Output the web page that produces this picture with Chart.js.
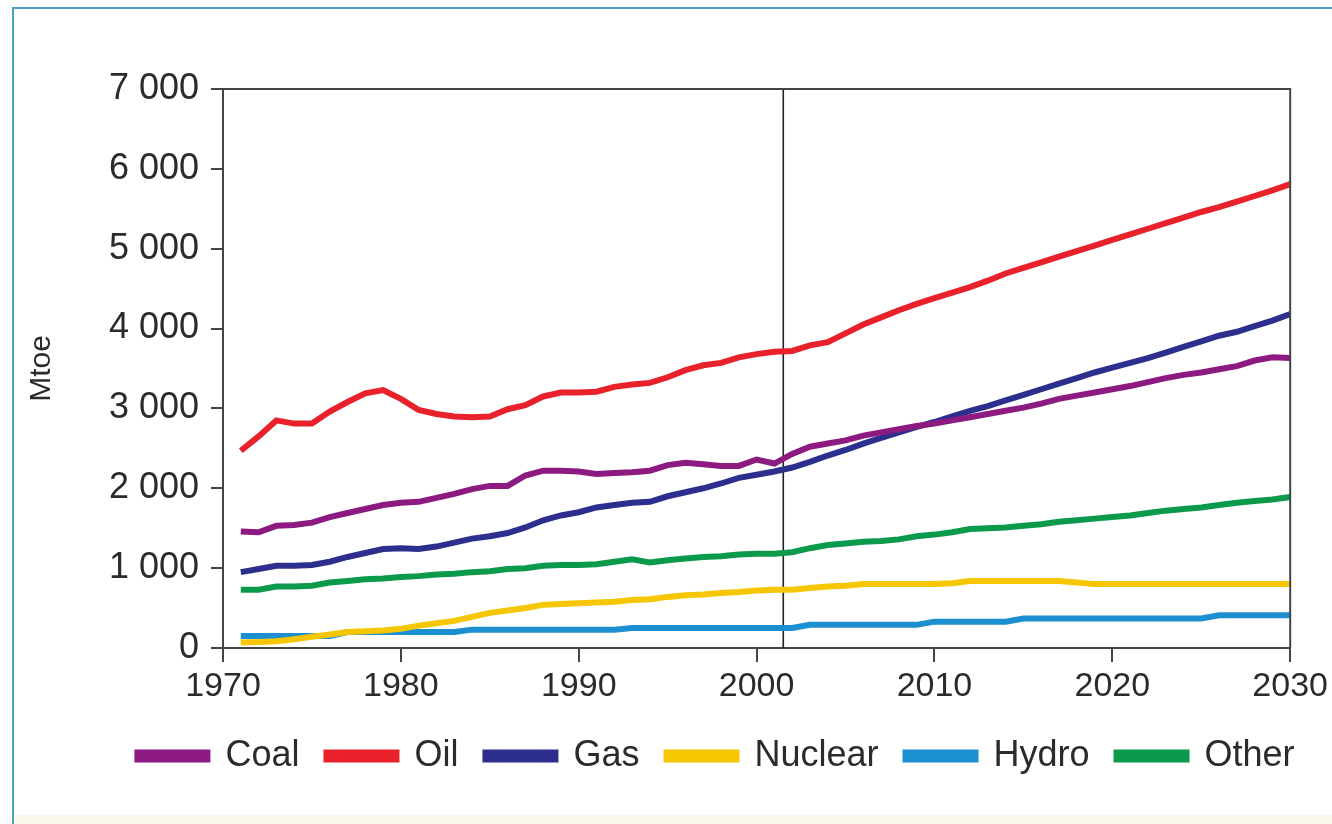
<!DOCTYPE html>
<html>
<head>
<meta charset="utf-8">
<script src="https://cdn.jsdelivr.net/npm/chart.js@4/dist/chart.umd.min.js"></script>
<style>
  html, body { margin: 0; padding: 0; background: #fff; }
  #wrap { position: relative; width: 1332px; height: 824px; overflow: hidden; background: #fff; }
  #frame { position: absolute; left: 12px; top: 7px; width: 1400px; height: 900px;
           border-left: 2px solid #4f9fc2; border-top: 2px solid #4f9fc2; }
  #band { position: absolute; left: 14px; top: 815px; width: 1400px; height: 12px; background: #faf7ec; }
  #acquisitions { position: absolute; left: 0; top: 0; }
</style>
</head>
<body>
<div id="wrap">
  <div id="frame"></div>
  <div id="band"></div>
  <canvas id="acquisitions" width="1332" height="824"></canvas>
</div>
<script>
// years of the series
const years = [1971, 1972, 1973, 1974, 1975, 1976, 1977, 1978, 1979, 1980,
    1981, 1982, 1983, 1984, 1985, 1986, 1987, 1988, 1989, 1990,
    1991, 1992, 1993, 1994, 1995, 1996, 1997, 1998, 1999, 2000,
    2001, 2002, 2003, 2004, 2005, 2006, 2007, 2008, 2009, 2010,
    2011, 2012, 2013, 2014, 2015, 2016, 2017, 2018, 2019, 2020,
    2021, 2022, 2023, 2024, 2025, 2026, 2027, 2028, 2029, 2030];

// Mtoe
const coal = [1460, 1450, 1530, 1540, 1570, 1640, 1690, 1740, 1790, 1820,
    1830, 1880, 1930, 1990, 2030, 2030, 2160, 2220, 2220, 2210,
    2180, 2190, 2200, 2220, 2290, 2320, 2300, 2280, 2280, 2360,
    2310, 2430, 2520, 2560, 2600, 2660, 2700, 2740, 2780, 2810,
    2850, 2890, 2930, 2970, 3010, 3060, 3120, 3160, 3200, 3240,
    3280, 3330, 3380, 3420, 3450, 3490, 3530, 3600, 3640, 3630];
const oil = [2470, 2650, 2850, 2810, 2810, 2960, 3080, 3190, 3230, 3120,
    2980, 2930, 2900, 2890, 2900, 2990, 3040, 3150, 3200, 3200,
    3210, 3270, 3300, 3320, 3390, 3480, 3540, 3570, 3640, 3680,
    3710, 3720, 3790, 3830, 3940, 4050, 4140, 4230, 4310, 4380,
    4450, 4520, 4600, 4690, 4760, 4830, 4900, 4970, 5040, 5110,
    5180, 5250, 5320, 5390, 5460, 5520, 5590, 5660, 5730, 5810];
const gas = [950, 990, 1030, 1030, 1040, 1080, 1140, 1190, 1240, 1250,
    1240, 1270, 1320, 1370, 1400, 1440, 1510, 1600, 1660, 1700,
    1760, 1790, 1820, 1830, 1900, 1950, 2000, 2060, 2130, 2170,
    2210, 2260, 2330, 2410, 2480, 2560, 2630, 2700, 2770, 2830,
    2900, 2970, 3030, 3100, 3170, 3240, 3310, 3380, 3450, 3510,
    3570, 3630, 3700, 3770, 3840, 3910, 3960, 4030, 4100, 4180];
const nuclear = [70, 75, 85, 110, 140, 170, 200, 210, 220, 240,
    280, 310, 340, 390, 440, 470, 500, 540, 550, 560,
    570, 580, 600, 610, 640, 660, 670, 690, 700, 720,
    730, 730, 750, 770, 780, 800, 800, 800, 800, 800,
    810, 840, 840, 840, 840, 840, 840, 820, 800, 800,
    800, 800, 800, 800, 800, 800, 800, 800, 800, 800];
const hydro = [150, 150, 150, 150, 150, 150, 200, 200, 200, 200,
    200, 200, 200, 230, 230, 230, 230, 230, 230, 230,
    230, 230, 250, 250, 250, 250, 250, 250, 250, 250,
    250, 250, 290, 290, 290, 290, 290, 290, 290, 330,
    330, 330, 330, 330, 370, 370, 370, 370, 370, 370,
    370, 370, 370, 370, 370, 410, 410, 410, 410, 410];
const other = [730, 730, 770, 770, 780, 820, 840, 860, 870, 890,
    900, 920, 930, 950, 960, 990, 1000, 1030, 1040, 1040,
    1050, 1080, 1110, 1070, 1100, 1120, 1140, 1150, 1170, 1180,
    1180, 1200, 1250, 1290, 1310, 1330, 1340, 1360, 1400, 1420,
    1450, 1490, 1500, 1510, 1530, 1550, 1580, 1600, 1620, 1640,
    1660, 1690, 1720, 1740, 1760, 1790, 1820, 1840, 1860, 1890];

const yTicks = [0, 1000, 2000, 3000, 4000, 5000, 6000, 7000];
const xTicks = [1970, 1980, 1990, 2000, 2010, 2020, 2030];
const dividerYear = 2001.5;

const FONT = "'Liberation Sans', Arial, sans-serif";
const INK = '#2b2b2b';

function pts(vals) {
    return years.map((y, i) => ({ x: y, y: vals[i] }));
}
function line(label, vals, color) {
    return {
        label: label,
        data: pts(vals),
        borderColor: color,
        backgroundColor: color,
        borderWidth: 6,
        pointRadius: 0,
        tension: 0,
        fill: false
    };
}

// frame round the plot + the base-year divider
const framePlugin = {
    id: 'framePlugin',
    beforeDatasetsDraw(chart) {
        const { ctx, chartArea: a, scales } = chart;
        const x = scales.x.getPixelForValue(dividerYear);
        ctx.save();
        ctx.strokeStyle = '#222';
        ctx.lineWidth = 1.6;
        ctx.beginPath();
        ctx.moveTo(x, a.top);
        ctx.lineTo(x, a.bottom);
        ctx.stroke();
        ctx.restore();
    },
    afterDatasetsDraw(chart) {
        const { ctx, chartArea: a } = chart;
        ctx.save();
        ctx.strokeStyle = '#444';
        ctx.lineWidth = 2;
        ctx.beginPath();
        ctx.moveTo(a.left, a.top);
        ctx.lineTo(a.right, a.top);
        ctx.lineTo(a.right, a.bottom);
        ctx.stroke();
        ctx.restore();
    },
    afterLayout(chart) {
        // legend sits a bit right of the canvas centre in the original
        chart.legend.left += 60;
        chart.legend.right += 60;
    }
};

const ctx = document.querySelector('#acquisitions');

new Chart(ctx, {
    type: 'line',
    data: {
        datasets: [
            line('Coal', coal, '#8c1a80'),
            line('Oil', oil, '#e8212b'),
            line('Gas', gas, '#2c2f8e'),
            line('Nuclear', nuclear, '#f6c700'),
            line('Hydro', hydro, '#1c8fd0'),
            line('Other', other, '#0b9a4b')
        ]
    },
    options: {
        responsive: false,
        animation: false,
        devicePixelRatio: 1,
        layout: { padding: { left: 20, right: 40, top: 89, bottom: 40 } },
        plugins: {
            tooltip: { enabled: false },
            legend: {
                position: 'bottom',
                labels: {
                    boxWidth: 70,
                    boxHeight: 7,
                    padding: 27,
                    color: INK,
                    font: { family: FONT, size: 36 }
                }
            }
        },
        scales: {
            x: {
                type: 'linear',
                min: 1970,
                max: 2030,
                afterBuildTicks(s) { s.ticks = xTicks.map(v => ({ value: v })); },
                afterFit(s) { s.height = 63; },
                grid: { drawOnChartArea: false, tickLength: 14, color: '#444', lineWidth: 2 },
                border: { color: '#444', width: 2 },
                ticks: {
                    color: INK,
                    padding: 4,
                    maxRotation: 0,
                    font: { family: FONT, size: 34 },
                    callback: v => String(v)
                }
            },
            y: {
                min: 0,
                max: 7000,
                afterBuildTicks(s) { s.ticks = yTicks.map(v => ({ value: v })); },
                afterFit(s) { s.width = 203; },
                grid: { drawOnChartArea: false, tickLength: 12, color: '#444', lineWidth: 2 },
                border: { color: '#444', width: 2 },
                title: {
                    display: true,
                    text: 'Mtoe',
                    color: INK,
                    padding: { top: 4, bottom: 0 },
                    font: { family: FONT, size: 30 }
                },
                ticks: {
                    color: INK,
                    padding: 12,
                    font: { family: FONT, size: 36 },
                    callback: v => String(v).replace(/\B(?=(\d{3})+(?!\d))/g, ' ')
                }
            }
        }
    },
    plugins: [framePlugin]
});
</script>
</body>
</html>
